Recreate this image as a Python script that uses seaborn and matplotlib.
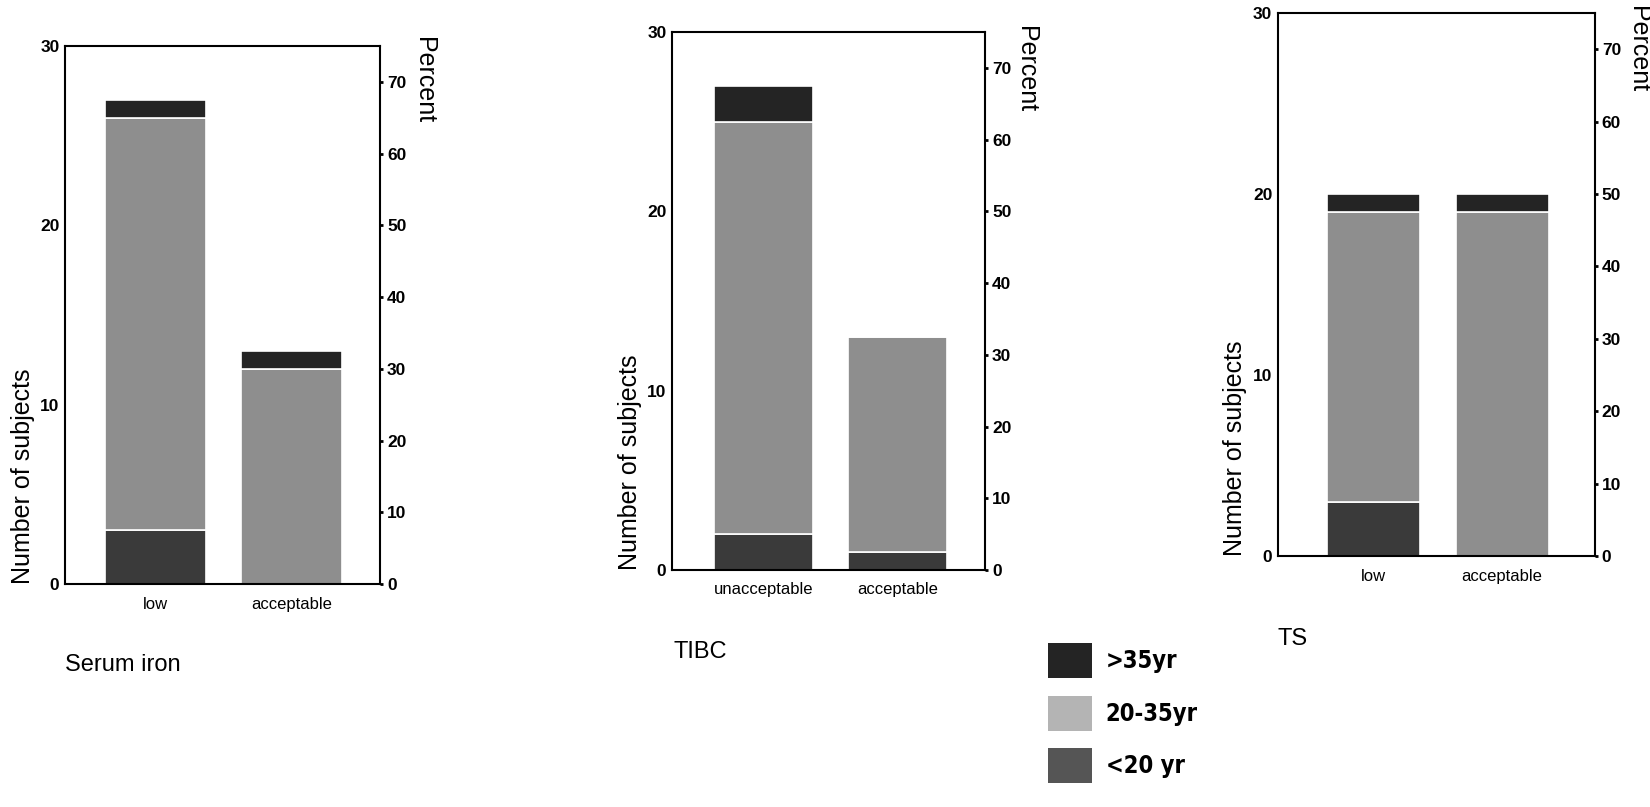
import numpy as np
import matplotlib
matplotlib.use("Agg")
import matplotlib.pyplot as plt
from matplotlib.patches import Patch
import seaborn as sns

# --------------- data (counts) --------------- #
age_groups = [">35yr", "20-35yr", "<20 yr"]
total_subjects = 40

serum_cats = ["low", "acceptable"]
serum_lt20 = [3, 0]
serum_20_35 = [23, 12]
serum_gt35 = [1, 1]

tibc_cats = ["unacceptable", "acceptable"]
tibc_lt20 = [2, 1]
tibc_20_35 = [23, 12]
tibc_gt35 = [2, 0]

ts_cats = ["low", "acceptable"]
ts_lt20 = [3, 0]
ts_20_35 = [16, 19]
ts_gt35 = [1, 1]

count_ticks = [0, 10, 20, 30]
percent_ticks = [0, 10, 20, 30, 40, 50, 60, 70]

col_gt35 = "#242424"
col_20_35 = "#8e8e8e"
col_lt20 = "#3a3a3a"

sns.set_theme(style="white")
plt.rcParams["font.family"] = ["Liberation Sans", "DejaVu Sans"]
plt.rcParams["text.color"] = "black"
plt.rcParams["axes.labelcolor"] = "black"
plt.rcParams["xtick.color"] = "black"
plt.rcParams["ytick.color"] = "black"

fig = plt.figure(figsize=(16.5, 8.07), dpi=100)


def stacked_panel(rect, cats, lt20, mid, gt35, xlim, title, title_xy,
                  perc_x, perc_y, bar_w):
    ax = fig.add_axes(rect)
    lt20 = np.array(lt20)
    mid = np.array(mid)
    gt35 = np.array(gt35)
    sns.barplot(x=cats, y=lt20, color=col_lt20, width=bar_w,
                edgecolor="white", linewidth=1.2, ax=ax)
    sns.barplot(x=cats, y=mid, bottom=lt20, color=col_20_35, width=bar_w,
                edgecolor="white", linewidth=1.2, ax=ax)
    sns.barplot(x=cats, y=gt35, bottom=lt20 + mid, color=col_gt35,
                width=bar_w, edgecolor="white", linewidth=1.2, ax=ax)
    ax.set_xlim(*xlim)
    ax.set_ylim(0, 30)
    ax.set_yticks(count_ticks)
    ax.tick_params(axis="y", length=3, pad=1, labelsize=12.5)
    ax.tick_params(axis="x", length=3, pad=6, labelsize=12)
    for lab in ax.get_yticklabels():
        lab.set_fontweight("bold")
    for sp in ax.spines.values():
        sp.set_visible(True)
        sp.set_linewidth(1.5)
        sp.set_color("black")
    ax.set_ylabel("Number of subjects", loc="bottom", fontsize=18,
                  labelpad=4)

    ax2 = ax.secondary_yaxis(
        "right",
        functions=(lambda c: c * 100 / total_subjects,
                   lambda p: p * total_subjects / 100))
    ax2.set_yticks(percent_ticks)
    ax2.tick_params(axis="y", length=2, width=2, pad=3, labelsize=12.5)
    for lab in ax2.get_yticklabels():
        lab.set_fontweight("bold")
    ax2.spines["right"].set_visible(False)
    ax.text(perc_x, perc_y, "Percent", rotation=270, ha="center", va="top",
            fontsize=18, transform=ax.transAxes)

    fig.text(title_xy[0], title_xy[1], title, fontsize=17,
             ha="left", va="center")
    return ax


stacked_panel([0.0394, 0.2763, 0.191, 0.6667], serum_cats,
              serum_lt20, serum_20_35, serum_gt35, (-0.66, 1.65),
              "Serum iron", (65 / 1650, 1 - 665 / 807), 1.14, 1.017, 0.74)
stacked_panel([0.4073, 0.2937, 0.1897, 0.6667], tibc_cats,
              tibc_lt20, tibc_20_35, tibc_gt35, (-0.68, 1.65),
              "TIBC", (673 / 1650, 1 - 652 / 807), 1.13, 1.011, 0.74)
stacked_panel([0.7745, 0.311, 0.1921, 0.673], ts_cats,
              ts_lt20, ts_20_35, ts_gt35, (-0.74, 1.72),
              "TS", (1278 / 1650, 1 - 639 / 807), 1.136, 1.012, 0.72)

handles = [Patch(facecolor=c, edgecolor="none")
           for c in [col_gt35, "#b4b4b4", "#555555"]]
fig.legend(handles, age_groups, loc="upper left",
           bbox_to_anchor=(1048 / 1650, 1 - 643 / 807),
           frameon=False, borderpad=0, borderaxespad=0,
           handlelength=1.85, handleheight=1.9, handletextpad=0.6,
           labelspacing=0.75,
           prop={"family": "DejaVu Sans", "stretch": "condensed",
                 "weight": "bold", "size": 17})

fig.savefig("out.png", dpi=100)
